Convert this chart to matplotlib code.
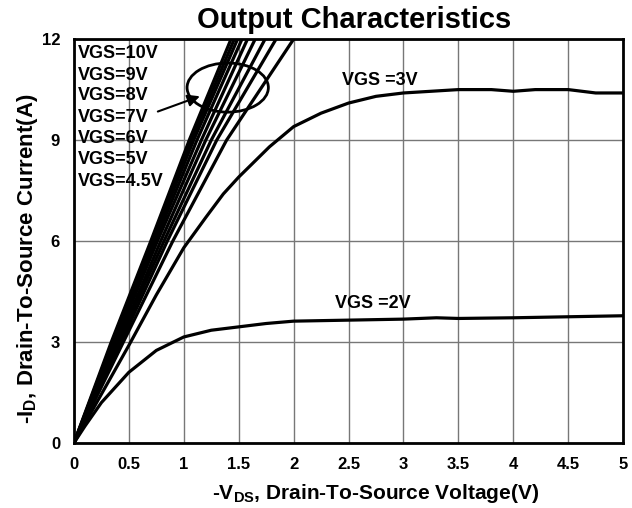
import matplotlib.pyplot as plt
import matplotlib.patches as mpatches
import numpy as np

plt.rcParams['font.family'] = 'Liberation Sans'
plt.rcParams['font.weight'] = 'bold'
plt.rcParams['mathtext.fontset'] = 'custom'
plt.rcParams['mathtext.rm'] = 'Liberation Sans:bold'
plt.rcParams['mathtext.bf'] = 'Liberation Sans:bold'

# VGS = 2V curve
vds_2v = [0, 0.1, 0.25, 0.5, 0.75, 1.0, 1.25, 1.5, 1.75, 2.0, 2.5, 3.0, 3.3, 3.5, 4.0, 4.5, 5.0]
id_2v = [0, 0.5, 1.2, 2.1, 2.75, 3.15, 3.35, 3.45, 3.55, 3.62, 3.65, 3.68, 3.72, 3.7, 3.72, 3.75, 3.78]

# VGS = 3V curve
vds_3v = [0, 0.25, 0.5, 0.75, 1.0, 1.2, 1.36, 1.5, 1.78, 2.0, 2.25, 2.5, 2.75, 3.0, 3.25,
          3.5, 3.8, 4.0, 4.2, 4.5, 4.75, 5.0]
id_3v = [0, 1.45, 2.9, 4.4, 5.8, 6.7, 7.4, 7.9, 8.8, 9.4, 9.8, 10.1, 10.3, 10.4, 10.45,
         10.5, 10.5, 10.45, 10.5, 10.5, 10.4, 10.4]

# steep curves (VGS = 4.5V .. 10V), VDS read at fixed currents
id_steep = [0, 3, 6, 9, 12]
vds_steep = [
    [0, 0.34, 0.70, 1.05, 1.43],
    [0, 0.35, 0.71, 1.07, 1.46],
    [0, 0.36, 0.72, 1.09, 1.49],
    [0, 0.37, 0.74, 1.12, 1.53],
    [0, 0.38, 0.76, 1.16, 1.58],
    [0, 0.40, 0.79, 1.20, 1.65],
    [0, 0.41, 0.82, 1.25, 1.74],
    [0, 0.43, 0.85, 1.30, 1.84],
    [0, 0.45, 0.90, 1.39, 2.00],
]

vgs_labels = ['VGS=10V', 'VGS=9V', 'VGS=8V', 'VGS=7V', 'VGS=6V', 'VGS=5V', 'VGS=4.5V']
xtick_vals = [0, 0.5, 1, 1.5, 2, 2.5, 3, 3.5, 4, 4.5, 5]
xtick_labels = ['0', '0.5', '1', '1.5', '2', '2.5', '3', '3.5', '4', '4.5', '5']
ytick_vals = [0, 3, 6, 9, 12]

fig = plt.figure(figsize=(6.32, 5.08), dpi=100)
ax = fig.add_axes([0.117, 0.128, 0.869, 0.795])

lw = 2.3
for v in vds_steep:
    ax.plot(v, id_steep, color='black', lw=lw, solid_capstyle='round')
ax.plot(vds_3v, id_3v, color='black', lw=lw)
ax.plot(vds_2v, id_2v, color='black', lw=lw)

ax.set_xlim(0, 5)
ax.set_ylim(0, 12)
ax.set_xticks(xtick_vals)
ax.set_xticklabels(xtick_labels)
ax.set_yticks(ytick_vals)
ax.tick_params(length=0, labelsize=12, pad=10)
ax.grid(True, color='#777777', lw=1)
ax.set_axisbelow(True)
for s in ax.spines.values():
    s.set_linewidth(2)
    s.set_color('black')

# curve labels
y_pos = [11.58, 10.93, 10.31, 9.68, 9.06, 8.41, 7.78]
for lab, yy in zip(vgs_labels, y_pos):
    ax.text(0.04, yy, lab, fontsize=13, fontweight='bold', va='center', ha='left')
ax.text(2.44, 10.78, 'VGS =3V', fontsize=13, fontweight='bold', va='center', ha='left')
ax.text(2.38, 4.13, 'VGS =2V', fontsize=13, fontweight='bold', va='center', ha='left')

ax.add_patch(mpatches.Ellipse((1.40, 10.56), 0.74, 1.46, fill=False, lw=2, color='black'))
ax.annotate('', xy=(1.17, 10.33), xytext=(0.74, 9.82),
            arrowprops=dict(arrowstyle='-|>', lw=1.5, color='black', mutation_scale=18))

fig.text(0.56, 0.988, 'Output Characteristics', fontsize=21, fontweight='bold',
         ha='center', va='top')
fig.text(0.044, 0.49, r'-I$_\mathrm{D}$, Drain-To-Source Current(A)', fontsize=16,
         fontweight='bold', rotation=90, ha='center', va='center')
fig.text(0.595, 0.006, r'-V$_\mathrm{DS}$, Drain-To-Source Voltage(V)', fontsize=15,
         fontweight='bold', ha='center', va='bottom')

fig.savefig('out.png', dpi=100)
